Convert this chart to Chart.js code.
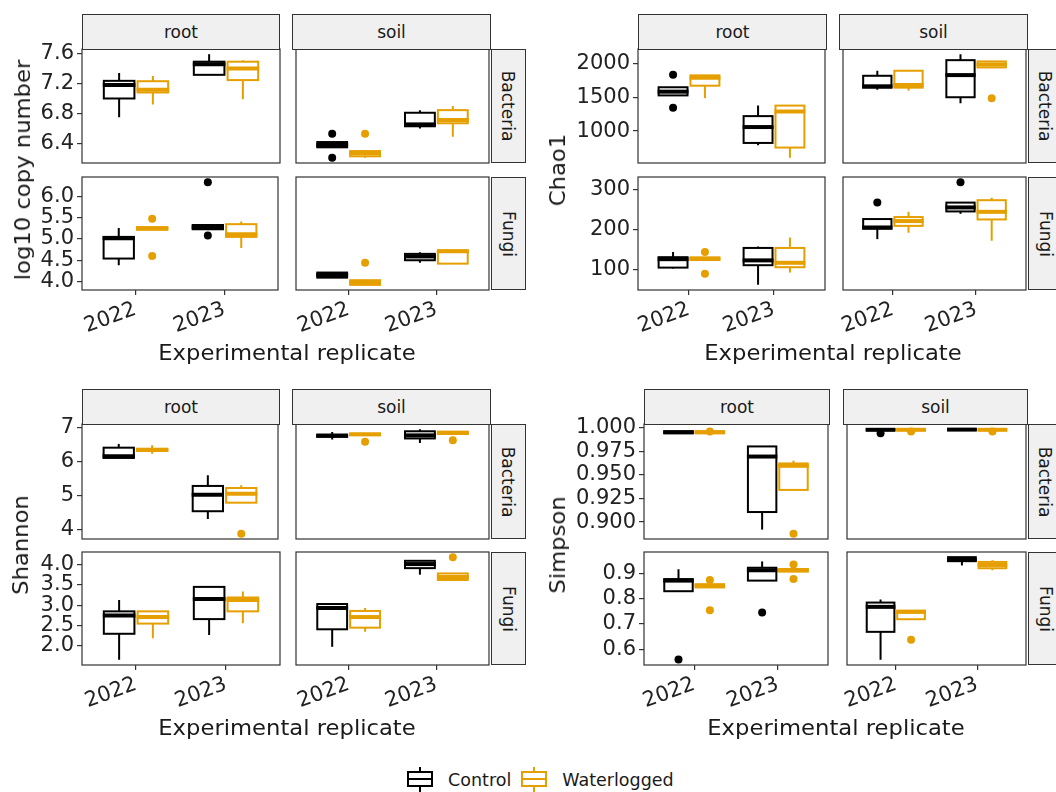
<!DOCTYPE html>
<html>
<head>
<meta charset="utf-8">
<script src="https://cdn.jsdelivr.net/npm/chart.js@4.4.1/dist/chart.umd.min.js"></script>
<style>
  body { margin: 0; background: #fff; width: 1056px; height: 792px; position: relative; overflow: hidden;
         font-family: 'DejaVu Sans', sans-serif; color: #1a1a1a; }
  canvas { position: absolute; }
  .strip { position: absolute; background: #f0f0f0; border: 1px solid #333; box-sizing: border-box;
           display: flex; align-items: center; justify-content: center; font-size: 17px; color: #1a1a1a; }
  .strip span.v { transform: rotate(90deg); white-space: nowrap; }
  .title { position: absolute; font-size: 21px; white-space: nowrap; transform: translate(-50%, -50%) scaleX(1.08); }
  .title.rot { transform: translate(-50%, -50%) rotate(-90deg) scaleX(1.08); }
  .legend { position: absolute; top: 767px; left: 407px; height: 25px; display: flex; align-items: center; font-size: 17.5px; }
  .key { position: relative; width: 26px; height: 25px; margin-right: 15px; }
  .key .wh { position: absolute; left: 12px; top: 0; width: 2px; height: 25px; }
  .key .bx { position: absolute; left: 0; top: 4px; width: 26px; height: 16px; box-sizing: border-box; background: #fff; border: 2px solid; }
  .key .md { position: absolute; left: 0; top: 11px; width: 26px; height: 2px; }
</style>
</head>
<body>
<script>
// ─────────────────────────────────────────
// DATA — box stats are [lower whisker, Q1, median, Q3, upper whisker]
// order of boxes: Control 2022, Waterlogged 2022, Control 2023, Waterlogged 2023
// outliers are [box index, value]
// ─────────────────────────────────────────
const years = ['2022', '2023'];
const groups = ['Control', 'Waterlogged'];
const groupColors = ['#000000', '#E69F00'];

// log10 copy number
const copyRootBac = [[6.75, 7.00, 7.18, 7.235, 7.34], [6.92, 7.08, 7.115, 7.23, 7.30], [7.315, 7.315, 7.455, 7.49, 7.59], [6.99, 7.245, 7.40, 7.49, 7.51]];
const copyRootBacOut = [];
const copySoilBac = [[6.35, 6.35, 6.38, 6.42, 6.42], [6.21, 6.23, 6.27, 6.30, 6.31], [6.60, 6.63, 6.655, 6.81, 6.845], [6.49, 6.67, 6.715, 6.845, 6.90]];
const copySoilBacOut = [[0, 6.53], [0, 6.21], [1, 6.53]];
const copyRootFun = [[4.38, 4.54, 5.02, 5.05, 5.26], [5.22, 5.22, 5.25, 5.28, 5.28], [5.23, 5.23, 5.28, 5.33, 5.33], [4.79, 5.05, 5.11, 5.35, 5.41]];
const copyRootFunOut = [[1, 5.48], [1, 4.60], [2, 6.34], [2, 5.08]];
const copySoilFun = [[4.09, 4.09, 4.15, 4.21, 4.21], [3.92, 3.92, 3.97, 4.03, 4.03], [4.44, 4.50, 4.59, 4.65, 4.69], [4.42, 4.42, 4.71, 4.73, 4.73]];
const copySoilFunOut = [[1, 4.44]];
const copyBacTicks = ['6.4', '6.8', '7.2', '7.6'];
const copyFunTicks = ['4.0', '4.5', '5.0', '5.5', '6.0'];

// Chao1
const chaoRootBac = [[1525, 1525, 1580, 1645, 1645], [1484, 1668, 1785, 1820, 1820], [790, 825, 1059, 1220, 1375], [606, 757, 1288, 1375, 1375]];
const chaoRootBacOut = [[0, 1829], [0, 1342]];
const chaoSoilBac = [[1610, 1639, 1659, 1814, 1888], [1595, 1639, 1678, 1888, 1888], [1410, 1498, 1824, 2044, 2132], [1937, 1937, 1980, 2025, 2034]];
const chaoSoilBacOut = [[3, 1484]];
const chaoRootFun = [[104, 106, 127, 132, 145], [125, 125, 128.5, 131, 131], [63, 112, 124, 155, 158.5], [94, 107, 118, 155, 181]];
const chaoRootFunOut = [[1, 145], [1, 91]];
const chaoSoilFun = [[177, 203, 206, 227, 227], [193, 210, 222, 232, 245], [240, 246, 256, 268, 268], [173, 226, 245, 274, 280]];
const chaoSoilFunOut = [[0, 268], [2, 319]];
const chaoBacTicks = ['1000', '1500', '2000'];
const chaoFunTicks = ['100', '200', '300'];

// Shannon
const shanRootBac = [[6.10, 6.10, 6.15, 6.40, 6.51], [6.22, 6.31, 6.33, 6.37, 6.47], [4.31, 4.54, 5.02, 5.28, 5.59], [4.79, 4.79, 5.05, 5.22, 5.30]];
const shanRootBacOut = [[3, 3.88]];
const shanSoilBac = [[6.64, 6.72, 6.75, 6.78, 6.86], [6.77, 6.77, 6.79, 6.81, 6.81], [6.54, 6.67, 6.76, 6.88, 6.94], [6.81, 6.81, 6.83, 6.87, 6.87]];
const shanSoilBacOut = [[1, 6.57], [3, 6.62]];
const shanRootFun = [[1.66, 2.30, 2.75, 2.85, 3.13], [2.19, 2.55, 2.71, 2.85, 2.85], [2.27, 2.66, 3.15, 3.45, 3.45], [2.56, 2.85, 3.13, 3.19, 3.34]];
const shanRootFunOut = [];
const shanSoilFun = [[1.98, 2.41, 2.93, 3.03, 3.03], [2.35, 2.45, 2.71, 2.86, 2.93], [3.75, 3.91, 4.01, 4.09, 4.09], [3.61, 3.62, 3.69, 3.78, 3.78]];
const shanSoilFunOut = [[3, 4.18]];
const shanBacTicks = ['4', '5', '6', '7'];
const shanFunTicks = ['2.0', '2.5', '3.0', '3.5', '4.0'];

// Simpson
const simpRootBac = [[0.994, 0.994, 0.995, 0.996, 0.996], [0.994, 0.994, 0.995, 0.996, 0.996], [0.892, 0.9106, 0.9693, 0.980, 0.980], [0.934, 0.934, 0.9595, 0.962, 0.965]];
const simpRootBacOut = [[1, 0.9958], [3, 0.8876]];
const simpSoilBac = [[0.9972, 0.9972, 0.9976, 0.9982, 0.9982], [0.9972, 0.9972, 0.9976, 0.9982, 0.9982], [0.9972, 0.9974, 0.9978, 0.9982, 0.9982], [0.9972, 0.9972, 0.9976, 0.9982, 0.9982]];
const simpSoilBacOut = [[0, 0.994], [1, 0.9958], [3, 0.9958]];
const simpRootFun = [[0.830, 0.830, 0.872, 0.878, 0.917], [0.845, 0.845, 0.853, 0.857, 0.857], [0.872, 0.872, 0.913, 0.923, 0.948], [0.908, 0.908, 0.913, 0.918, 0.918]];
const simpRootFunOut = [[0, 0.559], [1, 0.874], [1, 0.755], [2, 0.746], [3, 0.936], [3, 0.878]];
const simpSoilFun = [[0.558, 0.669, 0.768, 0.785, 0.797], [0.719, 0.719, 0.748, 0.753, 0.753], [0.932, 0.949, 0.955, 0.965, 0.965], [0.913, 0.921, 0.934, 0.946, 0.953]];
const simpSoilFunOut = [[1, 0.638]];
const simpBacTicks = ['0.900', '0.925', '0.950', '0.975', '1.000'];
const simpFunTicks = ['0.6', '0.7', '0.8', '0.9'];

const habitats = ['root', 'soil'];
const kingdoms = ['Bacteria', 'Fungi'];
const xTitle = 'Experimental replicate';

// ─────────────────────────────────────────
// LAYOUT
// ─────────────────────────────────────────
const metrics = [
  { yTitle: 'log10 copy number', cols: [[82, 280], [292, 491]], rows: [[49, 163], [177, 290]], stripTop: 14, yTitleX: 23, xTitleY: 353,
    stats: [[copyRootBac, copySoilBac], [copyRootFun, copySoilFun]],
    outs: [[copyRootBacOut, copySoilBacOut], [copyRootFunOut, copySoilFunOut]], ticks: [copyBacTicks, copyFunTicks] },
  { yTitle: 'Chao1', cols: [[638, 827], [839, 1028]], rows: [[49, 163], [177, 290]], stripTop: 14, yTitleX: 558, xTitleY: 353,
    stats: [[chaoRootBac, chaoSoilBac], [chaoRootFun, chaoSoilFun]],
    outs: [[chaoRootBacOut, chaoSoilBacOut], [chaoRootFunOut, chaoSoilFunOut]], ticks: [chaoBacTicks, chaoFunTicks] },
  { yTitle: 'Shannon', cols: [[82, 280], [292, 491]], rows: [[424, 539], [552, 665]], stripTop: 389, yTitleX: 21, xTitleY: 728,
    stats: [[shanRootBac, shanSoilBac], [shanRootFun, shanSoilFun]],
    outs: [[shanRootBacOut, shanSoilBacOut], [shanRootFunOut, shanSoilFunOut]], ticks: [shanBacTicks, shanFunTicks] },
  { yTitle: 'Simpson', cols: [[644, 830], [843, 1028]], rows: [[424, 539], [552, 665]], stripTop: 389, yTitleX: 558, xTitleY: 728,
    stats: [[simpRootBac, simpSoilBac], [simpRootFun, simpSoilFun]],
    outs: [[simpRootBacOut, simpSoilBacOut], [simpRootFunOut, simpSoilFunOut]], ticks: [simpBacTicks, simpFunTicks] },
];

const STRIP_W = 35;
const AXIS_W = 80;
const AXIS_H = 60;
const PAD = 16;
const BOX_OFFSET = 0.1875;
const BOX_HALF = 0.17;
const LINE_W = 2;
const MEDIAN_W = 4;
const TICK_FONT = 21;

Chart.defaults.font.family = "'DejaVu Sans', sans-serif";
Chart.defaults.color = '#222';

function boxCenter(i) {
  return Math.floor(i / 2) + 1 + (i % 2 ? BOX_OFFSET : -BOX_OFFSET);
}

// free y per row, 5% expansion like ggplot
function rowRange(statsList, outList) {
  const vals = [];
  statsList.forEach(s => s.forEach(b => vals.push(...b)));
  outList.forEach(o => o.forEach(p => vals.push(p[1])));
  const lo = Math.min(...vals), hi = Math.max(...vals);
  const pad = (hi - lo) * 0.05;
  return [lo - pad, hi + pad];
}

function boxPlugin(stats) {
  return {
    id: 'boxes',
    afterDatasetsDraw(chart) {
      const { ctx, chartArea: a, scales: { x, y } } = chart;
      ctx.save();
      ctx.beginPath();
      ctx.rect(a.left, a.top, a.width, a.height);
      ctx.clip();
      stats.forEach((b, i) => {
        const c = boxCenter(i);
        const xl = x.getPixelForValue(c - BOX_HALF);
        const xr = x.getPixelForValue(c + BOX_HALF);
        const xc = x.getPixelForValue(c);
        const [lo, q1, md, q3, hi] = b.map(v => y.getPixelForValue(v));
        ctx.strokeStyle = groupColors[i % 2];
        ctx.lineWidth = LINE_W;
        ctx.beginPath();
        ctx.moveTo(xc, hi); ctx.lineTo(xc, q3);
        ctx.moveTo(xc, q1); ctx.lineTo(xc, lo);
        ctx.stroke();
        ctx.fillStyle = '#fff';
        ctx.fillRect(xl, q3, xr - xl, q1 - q3);
        ctx.strokeRect(xl, q3, xr - xl, q1 - q3);
        ctx.lineWidth = MEDIAN_W;
        ctx.beginPath();
        ctx.moveTo(xl - 1, md); ctx.lineTo(xr + 1, md);
        ctx.stroke();
      });
      ctx.restore();
    },
    afterDraw(chart) {
      const { ctx, chartArea: a } = chart;
      ctx.save();
      ctx.strokeStyle = '#333';
      ctx.lineWidth = 1.2;
      ctx.strokeRect(a.left, a.top, a.width, a.height);
      ctx.restore();
    },
  };
}

function makeFacet(x0, x1, y0, y1, stats, outs, range, tickLabels, showY, showX) {
  const axW = showY ? AXIS_W : 0;
  const axH = showX ? AXIS_H : 0;
  const w = x1 - x0, h = y1 - y0;
  const cv = document.createElement('canvas');
  cv.width = axW + w + 2;
  cv.height = PAD + h + axH + PAD;
  cv.style.left = (x0 - axW) + 'px';
  cv.style.top = (y0 - PAD) + 'px';
  cv.style.width = cv.width + 'px';
  cv.style.height = cv.height + 'px';
  document.body.appendChild(cv);

  const datasets = groups.map((g, gi) => ({
    label: g,
    data: outs.filter(p => p[0] % 2 === gi).map(p => ({ x: boxCenter(p[0]), y: p[1] })),
    backgroundColor: groupColors[gi],
    borderWidth: 0,
    pointRadius: 4,
  }));

  const tickVals = tickLabels.map(Number);

  new Chart(cv, {
    type: 'scatter',
    data: { datasets },
    options: {
      responsive: false,
      animation: false,
      devicePixelRatio: 1,
      layout: { padding: { top: PAD, bottom: PAD, left: 0, right: 2 } },
      plugins: { legend: { display: false }, tooltip: { enabled: false } },
      scales: {
        x: {
          type: 'linear',
          display: showX,
          min: 0.4,
          max: 2.6,
          afterBuildTicks: s => { s.ticks = [{ value: 1 }, { value: 2 }]; },
          afterFit: s => { s.height = axH; s.paddingLeft = 0; s.paddingRight = 0; },
          grid: { drawOnChartArea: false, drawTicks: true, tickLength: 5, color: '#333', lineWidth: 1.2 },
          border: { display: false },
          ticks: {
            autoSkip: false,
            minRotation: 20,
            maxRotation: 20,
            padding: 2,
            color: '#222',
            font: { size: TICK_FONT },
            callback: v => years[v - 1],
          },
        },
        y: {
          type: 'linear',
          display: showY,
          min: range[0],
          max: range[1],
          afterBuildTicks: s => { s.ticks = tickVals.map(v => ({ value: v })); },
          afterFit: s => { s.width = axW; s.paddingTop = 0; s.paddingBottom = 0; },
          grid: { drawOnChartArea: false, drawTicks: true, tickLength: 5, color: '#333', lineWidth: 1.2 },
          border: { display: false },
          ticks: {
            padding: 3,
            color: '#222',
            font: { size: TICK_FONT },
            callback: v => tickLabels[tickVals.indexOf(v)],
          },
        },
      },
    },
    plugins: [boxPlugin(stats)],
  });
}

function addDiv(cls, html, style) {
  const d = document.createElement('div');
  d.className = cls;
  d.innerHTML = html;
  Object.assign(d.style, style);
  document.body.appendChild(d);
  return d;
}

function drawMetric(m) {
  m.rows.forEach((row, r) => {
    const range = rowRange(m.stats[r], m.outs[r]);
    m.cols.forEach((col, c) => {
      makeFacet(col[0], col[1], row[0], row[1], m.stats[r][c], m.outs[r][c], range, m.ticks[r], c === 0, r === 1);
    });
    // right strip
    const rc = m.cols[1][1];
    addDiv('strip', '<span class="v">' + kingdoms[r] + '</span>',
      { left: rc + 'px', top: row[0] + 'px', width: STRIP_W + 'px', height: (row[1] - row[0]) + 'px' });
  });
  // top strips
  m.cols.forEach((col, c) => {
    addDiv('strip', habitats[c],
      { left: col[0] + 'px', top: m.stripTop + 'px', width: (col[1] - col[0]) + 'px', height: (m.rows[0][0] - m.stripTop + 1) + 'px' });
  });
  addDiv('title rot', m.yTitle, { left: m.yTitleX + 'px', top: ((m.rows[0][0] + m.rows[1][1]) / 2) + 'px' });
  addDiv('title', xTitle, { left: ((m.cols[0][0] + m.cols[1][1]) / 2) + 'px', top: m.xTitleY + 'px' });
}

metrics.forEach(drawMetric);

// ─────────────────────────────────────────
// LEGEND
// ─────────────────────────────────────────
const legend = addDiv('legend', '', {});
groups.forEach((g, gi) => {
  const col = groupColors[gi];
  const key = document.createElement('div');
  key.className = 'key';
  key.innerHTML = '<div class="wh" style="background:' + col + '"></div>' +
    '<div class="bx" style="border-color:' + col + '"></div>' +
    '<div class="md" style="background:' + col + '"></div>';
  const lab = document.createElement('span');
  lab.textContent = g;
  lab.style.marginRight = gi === 0 ? '10px' : '0';
  legend.appendChild(key);
  legend.appendChild(lab);
});
</script>
</body>
</html>
